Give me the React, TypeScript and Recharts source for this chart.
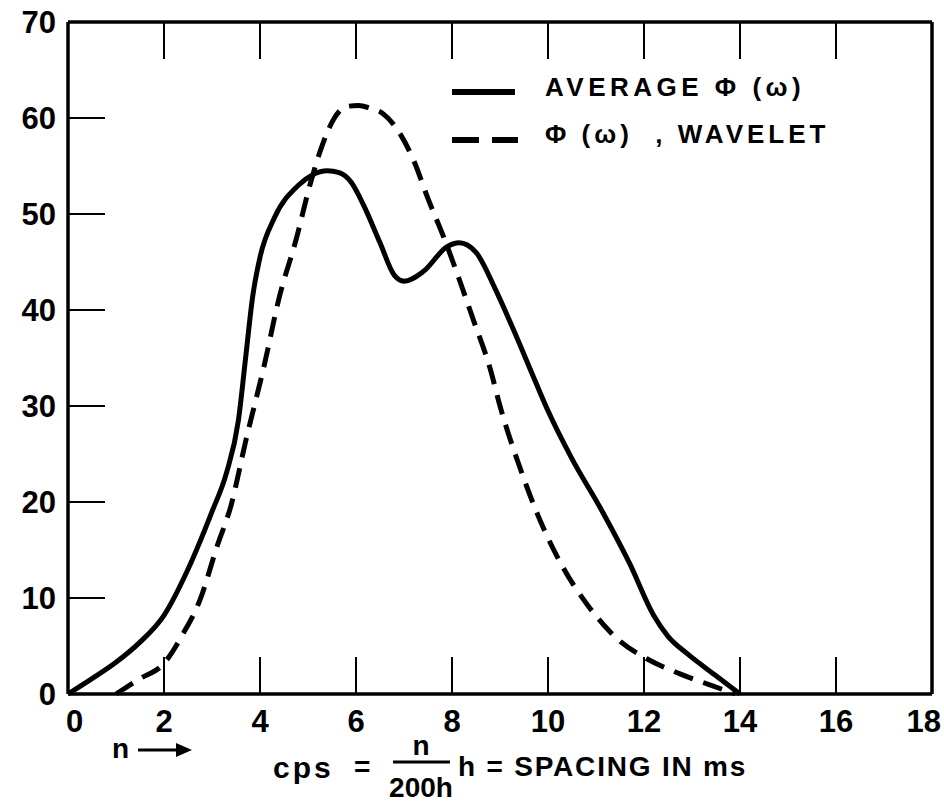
import { LineChart, Line, XAxis, YAxis } from 'recharts'

const avgX = [0, 0.5, 1, 1.5, 2, 2.5, 3, 3.3, 3.55, 3.7, 3.85, 4, 4.3, 4.8, 5.1, 5.4, 5.65, 5.9, 6.15, 6.5, 6.8, 7.0, 7.4, 7.9, 8.15, 8.5, 8.9, 9.25, 9.7, 10, 10.5, 11.1, 11.7, 12.2, 12.5, 12.9, 13.5, 14]
const avgY = [0, 1.6, 3.3, 5.4, 8.2, 13, 19, 23, 28.5, 35, 41.5, 45.5, 49.6, 53, 54.1, 54.5, 54.3, 53.3, 51, 47, 43.6, 43, 44, 46.6, 47, 46, 42.2, 38.3, 33, 29.5, 24.5, 19.3, 13.6, 8.2, 6, 4.2, 1.9, 0]

const waveX = [1, 1.5, 2, 2.4, 2.75, 3.1, 3.4, 3.7, 4.1, 4.4, 4.75, 5.05, 5.3, 5.55, 5.8, 6.05, 6.3, 6.55, 6.9, 7.2, 7.5, 7.85, 8.15, 8.45, 8.8, 9.0, 9.4, 9.8, 10.3, 10.85, 11.5, 12.05, 12.75, 13.4, 13.9]
const waveY = [0, 1.6, 3.2, 6.3, 9.8, 15.3, 19.7, 26.3, 34.5, 41.3, 47.3, 53.2, 57.2, 60, 61.2, 61.3, 61, 60.5, 58.5, 55.6, 51.6, 47.3, 43.2, 38.9, 33.8, 30, 23.8, 18.5, 13.3, 9.1, 5.5, 3.7, 2.1, 0.9, 0]

const xTicks = [0, 2, 4, 6, 8, 10, 12, 14, 16, 18]
const yTicks = [0, 10, 20, 30, 40, 50, 60, 70]

const avgName = 'AVERAGE Φ (ω)'
const waveName = 'Φ (ω)  , WAVELET'

const avgData = avgX.map((x, i) => ({ x, v: avgY[i] }))
const waveData = waveX.map((x, i) => ({ x, v: waveY[i] }))

const FONT = '"Liberation Sans", Arial, sans-serif'
const INK = '#000'
const TICK_LEN = 37

const BottomTick = ({ x, y, payload }: any) => {
  // first and last labels sit a little inside the frame, as in the original
  const first = payload.value === xTicks[0]
  const last = payload.value === xTicks[xTicks.length - 1]
  const anchor = first ? 'start' : last ? 'end' : 'middle'
  const dx = first ? -2 : last ? 9 : 0
  return (
    <g>
      <line x1={x} y1={y} x2={x} y2={y - TICK_LEN} stroke={INK} strokeWidth={2} />
      <text x={x + dx} y={y + 38} textAnchor={anchor} fontSize={31} fontWeight={700} fill={INK} fontFamily={FONT}>
        {payload.value}
      </text>
    </g>
  )
}

const TopTick = ({ x, y }: any) => (
  <line x1={x} y1={y} x2={x} y2={y + TICK_LEN} stroke={INK} strokeWidth={2} />
)

const LeftTick = ({ x, y, payload }: any) => (
  <g>
    <line x1={x} y1={y} x2={x + TICK_LEN} y2={y} stroke={INK} strokeWidth={2} />
    <text x={x - 12} y={y + 11} textAnchor="end" fontSize={31} fontWeight={700} fill={INK} fontFamily={FONT}>
      {payload.value}
    </text>
  </g>
)

const RightTick = ({ x, y }: any) => (
  <line x1={x} y1={y} x2={x - TICK_LEN} y2={y} stroke={INK} strokeWidth={2} />
)

export default function App() {
  return (
    <div style={{ position: 'absolute', left: 0, top: 0, width: 944, height: 804, overflow: 'hidden', background: '#fff' }}>
      <LineChart width={944} height={804} data={avgData} margin={{ top: 21, right: 11, bottom: 70, left: 8 }}>
        <XAxis
          dataKey="x"
          type="number"
          domain={[0, 18]}
          ticks={xTicks}
          interval={0}
          tickSize={0}
          tickMargin={0}
          tickLine={false}
          axisLine={{ stroke: INK, strokeWidth: 3.5 }}
          tick={<BottomTick />}
          height={40}
        />
        <XAxis
          xAxisId="top"
          orientation="top"
          dataKey="x"
          type="number"
          domain={[0, 18]}
          ticks={xTicks}
          interval={0}
          tickSize={0}
          tickMargin={0}
          tickLine={false}
          axisLine={{ stroke: INK, strokeWidth: 3.5 }}
          tick={<TopTick />}
          height={1}
        />
        <YAxis
          type="number"
          domain={[0, 70]}
          ticks={yTicks}
          interval={0}
          tickSize={0}
          tickMargin={0}
          tickLine={false}
          axisLine={{ stroke: INK, strokeWidth: 3.5 }}
          tick={<LeftTick />}
          width={60}
        />
        <YAxis
          yAxisId="right"
          orientation="right"
          type="number"
          domain={[0, 70]}
          ticks={yTicks}
          interval={0}
          tickSize={0}
          tickMargin={0}
          tickLine={false}
          axisLine={{ stroke: INK, strokeWidth: 3.5 }}
          tick={<RightTick />}
          width={1}
        />
        <Line
          data={avgData}
          dataKey="v"
          name={avgName}
          type="monotone"
          stroke={INK}
          strokeWidth={5}
          dot={false}
          isAnimationActive={false}
        />
        <Line
          data={waveData}
          dataKey="v"
          name={waveName}
          type="monotone"
          stroke={INK}
          strokeWidth={5}
          strokeDasharray="20 11"
          dot={false}
          isAnimationActive={false}
        />
      </LineChart>

      {/* legend + axis caption, drawn over the chart */}
      <svg width={944} height={804} style={{ position: 'absolute', left: 0, top: 0, pointerEvents: 'none' }}>
        <g fontFamily={FONT} fontWeight={700} fill={INK}>
          <line x1={452} y1={92} x2={515} y2={92} stroke={INK} strokeWidth={6} />
          <text x={545} y={96} fontSize={26} letterSpacing={4.5}>{avgName}</text>
          <line x1={452} y1={140} x2={518} y2={140} stroke={INK} strokeWidth={6} strokeDasharray="27 13" />
          <text x={545} y={143} fontSize={26} letterSpacing={4} style={{ whiteSpace: 'pre' }}>{waveName}</text>

          <text x={112} y={758} fontSize={28}>n</text>
          <line x1={138} y1={750} x2={178} y2={750} stroke={INK} strokeWidth={3} />
          <polygon points="176,743 192,750 176,757" fill={INK} />

          <text x={273} y={778} fontSize={30} letterSpacing={3}>cps</text>
          <text x={354} y={776} fontSize={28}>=</text>
          <text x={421} y={755} fontSize={28} textAnchor="middle">n</text>
          <line x1={393} y1={762} x2={450} y2={762} stroke={INK} strokeWidth={3} />
          <text x={421} y={797} fontSize={28} textAnchor="middle">200h</text>
          <text x={458} y={776} fontSize={28} letterSpacing={1.8}>h = SPACING IN ms</text>
        </g>
      </svg>
    </div>
  )
}
